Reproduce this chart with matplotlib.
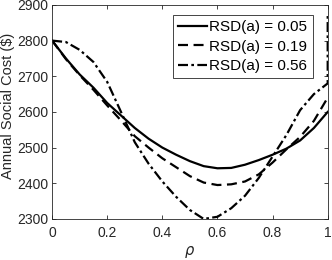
import matplotlib.pyplot as plt

plt.rcParams["font.family"] = ["Liberation Sans", "DejaVu Sans"]

RHO = [0.0, 0.05, 0.1, 0.15, 0.2, 0.25, 0.3, 0.35, 0.4, 0.45, 0.5,
       0.55, 0.6, 0.65, 0.7, 0.75, 0.8, 0.85, 0.9, 0.95, 1.0]

COST_005 = [2800, 2750, 2705, 2668, 2625, 2590, 2555, 2525, 2500, 2480, 2462,
            2448, 2442, 2443, 2452, 2465, 2480, 2497, 2520, 2555, 2600]
COST_019 = [2800, 2748, 2703, 2662, 2618, 2576, 2532, 2500, 2470, 2445, 2420,
            2402, 2395, 2397, 2405, 2425, 2458, 2495, 2530, 2575, 2640]
COST_056 = [2800, 2796, 2774, 2740, 2684, 2600, 2515, 2455, 2405, 2362, 2325,
            2300, 2306, 2330, 2365, 2415, 2475, 2535, 2605, 2650, 2680]

# the RSD 0.56 curve shoots straight up at rho = 1
RHO_056 = RHO + [1.0]
COST_056_END = COST_056 + [2870]

LABELS = ["RSD(a) = 0.05", "RSD(a) = 0.19", "RSD(a) = 0.56"]

AX_COLOR = "#262626"

fig = plt.figure(figsize=(3.32, 2.60), dpi=100)
ax = fig.add_axes([0.157, 0.158, 0.830, 0.823])

ax.plot(RHO, COST_005, color="black", lw=1.6, ls="-", label=LABELS[0])
ax.plot(RHO, COST_019, color="black", lw=1.6, ls=(0, (4.5, 2.5)), label=LABELS[1])
ax.plot(RHO_056, COST_056_END, color="black", lw=1.6, ls=(0, (4.5, 1.5, 1.2, 1.5)),
        label=LABELS[2])

ax.set_xlim(0, 1)
ax.set_ylim(2300, 2900)
ax.set_xticks([0, 0.2, 0.4, 0.6, 0.8, 1])
ax.set_xticklabels(["0", "0.2", "0.4", "0.6", "0.8", "1"])
ax.set_yticks(range(2300, 2901, 100))

ax.tick_params(direction="in", top=True, right=True, length=3, width=0.6,
               labelsize=10, colors=AX_COLOR, pad=3)
ax.tick_params(axis="x", pad=5)
for sp in ax.spines.values():
    sp.set_color(AX_COLOR)
    sp.set_linewidth(0.6)

ax.set_xlabel(r"$\rho$", fontsize=10.5, color=AX_COLOR, labelpad=3)
ax.set_ylabel("Annual Social Cost ($)", fontsize=10.5, color=AX_COLOR, labelpad=3)
ax.yaxis.set_label_coords(-0.135, 0.53)

leg = ax.legend(loc="upper right", bbox_to_anchor=(0.946, 0.953), fontsize=11,
                frameon=True, fancybox=False, handlelength=1.9, handletextpad=0.15,
                borderpad=0.35, labelspacing=0.35, borderaxespad=0)
leg.get_frame().set_edgecolor(AX_COLOR)
leg.get_frame().set_linewidth(0.6)
leg.get_frame().set_alpha(1)

fig.savefig("out.png", dpi=100)
